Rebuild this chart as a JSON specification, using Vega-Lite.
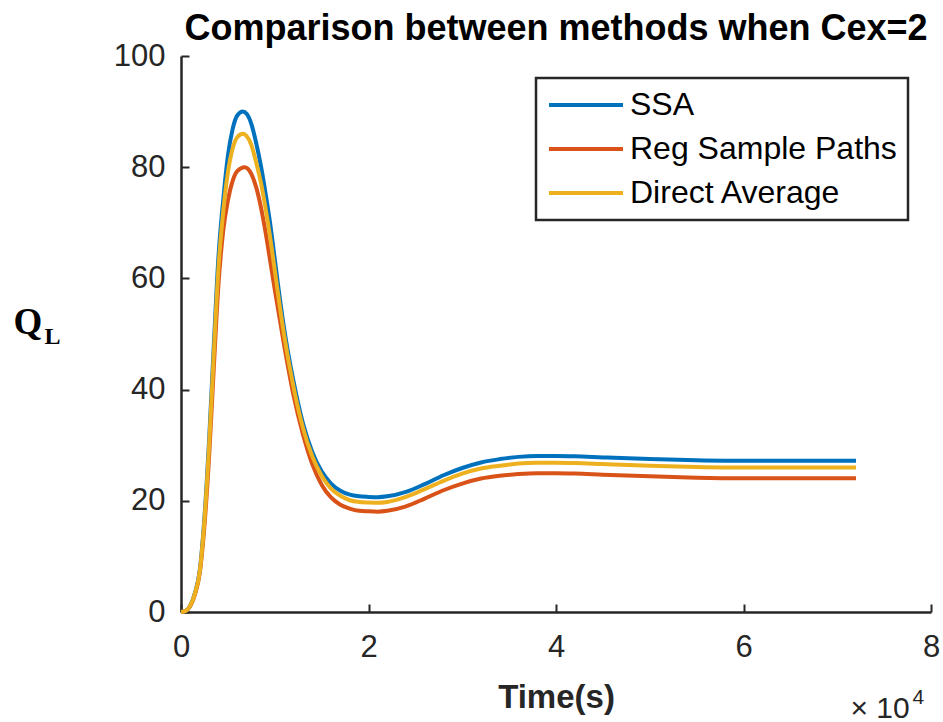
{
  "$schema": "https://vega.github.io/schema/vega-lite/v6.json",
  "width": 750,
  "height": 556,
  "autosize": {"type": "none"},
  "padding": {"left": 181, "top": 56, "right": 12, "bottom": 110},
  "background": "white",
  "title": {
    "text": "Comparison between methods when Cex=2",
    "font": "Liberation Sans",
    "fontSize": 36,
    "fontWeight": "bold",
    "color": "#000000",
    "anchor": "middle",
    "frame": "group",
    "baseline": "alphabetic",
    "offset": 0,
    "dy": 36
  },
  "config": {
    "view": {"stroke": null},
    "legend": {"strokeWidth": 2.5},
    "axis": {
      "domainColor": "#262626",
      "domainWidth": 2.5,
      "tickColor": "#262626",
      "tickWidth": 2,
      "tickSize": -8,
      "labelFont": "Liberation Sans",
      "labelFontSize": 31,
      "labelColor": "#262626",
      "grid": false,
      "labelFlush": false,
      "labelOverlap": false
    }
  },
  "data": {
    "values": [
      {"s": "SSA", "t": 0, "v": 0},
      {"s": "SSA", "t": 500, "v": 0.2},
      {"s": "SSA", "t": 1000, "v": 1.2},
      {"s": "SSA", "t": 1500, "v": 3.5},
      {"s": "SSA", "t": 2000, "v": 7.5},
      {"s": "SSA", "t": 2500, "v": 17},
      {"s": "SSA", "t": 3000, "v": 31},
      {"s": "SSA", "t": 3500, "v": 48},
      {"s": "SSA", "t": 4000, "v": 64},
      {"s": "SSA", "t": 4500, "v": 74},
      {"s": "SSA", "t": 5000, "v": 82},
      {"s": "SSA", "t": 5500, "v": 86.8},
      {"s": "SSA", "t": 6000, "v": 89.3},
      {"s": "SSA", "t": 6600, "v": 90},
      {"s": "SSA", "t": 7000, "v": 89.6},
      {"s": "SSA", "t": 7500, "v": 87.8},
      {"s": "SSA", "t": 8000, "v": 84.5},
      {"s": "SSA", "t": 8550, "v": 80},
      {"s": "SSA", "t": 9000, "v": 75.5},
      {"s": "SSA", "t": 9500, "v": 70},
      {"s": "SSA", "t": 10000, "v": 63.5},
      {"s": "SSA", "t": 10300, "v": 59.5},
      {"s": "SSA", "t": 11000, "v": 51},
      {"s": "SSA", "t": 12000, "v": 41.5},
      {"s": "SSA", "t": 13000, "v": 34},
      {"s": "SSA", "t": 14000, "v": 28.8},
      {"s": "SSA", "t": 15000, "v": 25.3},
      {"s": "SSA", "t": 16000, "v": 23.1},
      {"s": "SSA", "t": 17000, "v": 21.8},
      {"s": "SSA", "t": 18000, "v": 21.1},
      {"s": "SSA", "t": 19000, "v": 20.8},
      {"s": "SSA", "t": 20000, "v": 20.7},
      {"s": "SSA", "t": 21000, "v": 20.65},
      {"s": "SSA", "t": 22000, "v": 20.8},
      {"s": "SSA", "t": 24000, "v": 21.6},
      {"s": "SSA", "t": 26000, "v": 23.0},
      {"s": "SSA", "t": 28000, "v": 24.6},
      {"s": "SSA", "t": 30000, "v": 25.9},
      {"s": "SSA", "t": 32000, "v": 26.9},
      {"s": "SSA", "t": 34000, "v": 27.5},
      {"s": "SSA", "t": 36000, "v": 27.9},
      {"s": "SSA", "t": 38000, "v": 28.05},
      {"s": "SSA", "t": 40000, "v": 28.05},
      {"s": "SSA", "t": 42000, "v": 28.0},
      {"s": "SSA", "t": 45000, "v": 27.8},
      {"s": "SSA", "t": 50000, "v": 27.5},
      {"s": "SSA", "t": 55000, "v": 27.3},
      {"s": "SSA", "t": 60000, "v": 27.2},
      {"s": "SSA", "t": 65000, "v": 27.2},
      {"s": "SSA", "t": 70000, "v": 27.2},
      {"s": "SSA", "t": 72000, "v": 27.2},

      {"s": "Reg Sample Paths", "t": 0, "v": 0},
      {"s": "Reg Sample Paths", "t": 500, "v": 0.2},
      {"s": "Reg Sample Paths", "t": 1000, "v": 1.1},
      {"s": "Reg Sample Paths", "t": 1500, "v": 3.2},
      {"s": "Reg Sample Paths", "t": 2000, "v": 7},
      {"s": "Reg Sample Paths", "t": 2500, "v": 15.5},
      {"s": "Reg Sample Paths", "t": 3000, "v": 28},
      {"s": "Reg Sample Paths", "t": 3500, "v": 44},
      {"s": "Reg Sample Paths", "t": 4000, "v": 59},
      {"s": "Reg Sample Paths", "t": 4500, "v": 68.5},
      {"s": "Reg Sample Paths", "t": 5000, "v": 74},
      {"s": "Reg Sample Paths", "t": 5500, "v": 77.5},
      {"s": "Reg Sample Paths", "t": 6000, "v": 79.3},
      {"s": "Reg Sample Paths", "t": 6800, "v": 80},
      {"s": "Reg Sample Paths", "t": 7500, "v": 78.8},
      {"s": "Reg Sample Paths", "t": 8000, "v": 76.5},
      {"s": "Reg Sample Paths", "t": 8500, "v": 73},
      {"s": "Reg Sample Paths", "t": 9000, "v": 68.5},
      {"s": "Reg Sample Paths", "t": 9500, "v": 63.3},
      {"s": "Reg Sample Paths", "t": 10000, "v": 58},
      {"s": "Reg Sample Paths", "t": 11000, "v": 48},
      {"s": "Reg Sample Paths", "t": 12000, "v": 39},
      {"s": "Reg Sample Paths", "t": 13000, "v": 32},
      {"s": "Reg Sample Paths", "t": 14000, "v": 26.6},
      {"s": "Reg Sample Paths", "t": 15000, "v": 22.9},
      {"s": "Reg Sample Paths", "t": 16000, "v": 20.6},
      {"s": "Reg Sample Paths", "t": 17000, "v": 19.3},
      {"s": "Reg Sample Paths", "t": 18000, "v": 18.6},
      {"s": "Reg Sample Paths", "t": 19000, "v": 18.2},
      {"s": "Reg Sample Paths", "t": 20000, "v": 18.1},
      {"s": "Reg Sample Paths", "t": 21000, "v": 18.05},
      {"s": "Reg Sample Paths", "t": 22000, "v": 18.2},
      {"s": "Reg Sample Paths", "t": 24000, "v": 19.0},
      {"s": "Reg Sample Paths", "t": 26000, "v": 20.4},
      {"s": "Reg Sample Paths", "t": 28000, "v": 21.9},
      {"s": "Reg Sample Paths", "t": 30000, "v": 23.1},
      {"s": "Reg Sample Paths", "t": 32000, "v": 24.0},
      {"s": "Reg Sample Paths", "t": 34000, "v": 24.5},
      {"s": "Reg Sample Paths", "t": 36000, "v": 24.8},
      {"s": "Reg Sample Paths", "t": 38000, "v": 24.95},
      {"s": "Reg Sample Paths", "t": 40000, "v": 24.95},
      {"s": "Reg Sample Paths", "t": 42000, "v": 24.9},
      {"s": "Reg Sample Paths", "t": 45000, "v": 24.7},
      {"s": "Reg Sample Paths", "t": 50000, "v": 24.4},
      {"s": "Reg Sample Paths", "t": 55000, "v": 24.15},
      {"s": "Reg Sample Paths", "t": 60000, "v": 24.05},
      {"s": "Reg Sample Paths", "t": 65000, "v": 24.05},
      {"s": "Reg Sample Paths", "t": 70000, "v": 24.05},
      {"s": "Reg Sample Paths", "t": 72000, "v": 24.05},

      {"s": "Direct Average", "t": 0, "v": 0},
      {"s": "Direct Average", "t": 500, "v": 0.2},
      {"s": "Direct Average", "t": 1000, "v": 1.2},
      {"s": "Direct Average", "t": 1500, "v": 3.4},
      {"s": "Direct Average", "t": 2000, "v": 7.3},
      {"s": "Direct Average", "t": 2500, "v": 16.5},
      {"s": "Direct Average", "t": 3000, "v": 30},
      {"s": "Direct Average", "t": 3500, "v": 46.5},
      {"s": "Direct Average", "t": 4000, "v": 62},
      {"s": "Direct Average", "t": 4500, "v": 72},
      {"s": "Direct Average", "t": 5000, "v": 79},
      {"s": "Direct Average", "t": 5500, "v": 83.3},
      {"s": "Direct Average", "t": 6000, "v": 85.4},
      {"s": "Direct Average", "t": 6600, "v": 86},
      {"s": "Direct Average", "t": 7000, "v": 85.6},
      {"s": "Direct Average", "t": 7500, "v": 84},
      {"s": "Direct Average", "t": 8000, "v": 81},
      {"s": "Direct Average", "t": 8550, "v": 77},
      {"s": "Direct Average", "t": 9000, "v": 72.8},
      {"s": "Direct Average", "t": 9500, "v": 67.5},
      {"s": "Direct Average", "t": 10000, "v": 61.5},
      {"s": "Direct Average", "t": 10300, "v": 57.8},
      {"s": "Direct Average", "t": 11000, "v": 49.8},
      {"s": "Direct Average", "t": 12000, "v": 40.5},
      {"s": "Direct Average", "t": 13000, "v": 33.2},
      {"s": "Direct Average", "t": 14000, "v": 28},
      {"s": "Direct Average", "t": 15000, "v": 24.5},
      {"s": "Direct Average", "t": 16000, "v": 22.2},
      {"s": "Direct Average", "t": 17000, "v": 20.9},
      {"s": "Direct Average", "t": 18000, "v": 20.1},
      {"s": "Direct Average", "t": 19000, "v": 19.8},
      {"s": "Direct Average", "t": 20000, "v": 19.7},
      {"s": "Direct Average", "t": 21000, "v": 19.65},
      {"s": "Direct Average", "t": 22000, "v": 19.8},
      {"s": "Direct Average", "t": 24000, "v": 20.7},
      {"s": "Direct Average", "t": 26000, "v": 22.1},
      {"s": "Direct Average", "t": 28000, "v": 23.6},
      {"s": "Direct Average", "t": 30000, "v": 24.9},
      {"s": "Direct Average", "t": 32000, "v": 25.8},
      {"s": "Direct Average", "t": 34000, "v": 26.3},
      {"s": "Direct Average", "t": 36000, "v": 26.7},
      {"s": "Direct Average", "t": 38000, "v": 26.85},
      {"s": "Direct Average", "t": 40000, "v": 26.85},
      {"s": "Direct Average", "t": 42000, "v": 26.8},
      {"s": "Direct Average", "t": 45000, "v": 26.6},
      {"s": "Direct Average", "t": 50000, "v": 26.3},
      {"s": "Direct Average", "t": 55000, "v": 26.1},
      {"s": "Direct Average", "t": 60000, "v": 26.0},
      {"s": "Direct Average", "t": 65000, "v": 26.0},
      {"s": "Direct Average", "t": 70000, "v": 26.0},
      {"s": "Direct Average", "t": 72000, "v": 26.0}
    ]
  },
  "layer": [
    {
      "transform": [{"filter": "datum.s === 'SSA'"}],
      "mark": {"type": "line", "strokeWidth": 4, "interpolate": "monotone"},
      "encoding": {
        "x": {
          "field": "t",
          "type": "quantitative",
          "scale": {"domain": [0, 80000], "nice": false},
          "axis": {
            "values": [0, 20000, 40000, 60000, 80000],
            "labelExpr": "datum.value / 10000",
            "labelPadding": 28,
            "title": "Time(s)",
            "titleFont": "Liberation Sans",
            "titleFontSize": 33,
            "titleFontWeight": "bold",
            "titleColor": "#262626",
            "titleBaseline": "alphabetic",
            "titleY": 95
          }
        },
        "y": {
          "field": "v",
          "type": "quantitative",
          "scale": {"domain": [0, 100], "nice": false},
          "axis": {
            "values": [0, 20, 40, 60, 80, 100],
            "labelPadding": 24,
            "title": "Q",
            "titleFont": "Liberation Serif",
            "titleFontSize": 37,
            "titleFontWeight": "bold",
            "titleColor": "#000000",
            "titleAngle": 0,
            "titleAlign": "left",
            "titleBaseline": "alphabetic",
            "titleX": -168,
            "titleY": 277
          }
        },
        "color": {
          "field": "s",
          "type": "nominal",
          "scale": {
            "domain": ["SSA", "Reg Sample Paths", "Direct Average"],
            "range": ["#0072BD", "#D95319", "#EDB120"]
          },
          "legend": {
            "orient": "none",
            "legendX": 355,
            "legendY": 22,
            "title": null,
            "symbolType": "stroke",
            "symbolSize": 5476,
            "symbolStrokeWidth": 4,
            "clipHeight": 32,
            "labelFont": "Liberation Sans",
            "labelFontSize": 32,
            "labelColor": "#000000",
            "labelOffset": 5,
            "labelLimit": 400,
            "padding": 11,
            "rowPadding": 12,
            "strokeColor": "#262626",
            "fillColor": "#ffffff"
          }
        }
      }
    },
    {
      "transform": [{"filter": "datum.s === 'Reg Sample Paths'"}],
      "mark": {"type": "line", "strokeWidth": 4, "interpolate": "monotone"},
      "encoding": {
        "x": {
          "field": "t",
          "type": "quantitative",
          "axis": {
            "orient": "bottom",
            "domain": false,
            "ticks": false,
            "labels": false,
            "title": "× 10",
            "titleFont": "Liberation Sans",
            "titleFontSize": 30,
            "titleFontWeight": "normal",
            "titleColor": "#262626",
            "titleAlign": "left",
            "titleBaseline": "alphabetic",
            "titleX": 669,
            "titleY": 105
          }
        },
        "y": {"field": "v", "type": "quantitative", "axis": null},
        "color": {"field": "s", "type": "nominal"}
      }
    },
    {
      "transform": [{"filter": "datum.s === 'Direct Average'"}],
      "mark": {"type": "line", "strokeWidth": 4, "interpolate": "monotone"},
      "encoding": {
        "x": {
          "field": "t",
          "type": "quantitative",
          "axis": {
            "orient": "bottom",
            "domain": false,
            "ticks": false,
            "labels": false,
            "title": "4",
            "titleFont": "Liberation Sans",
            "titleFontSize": 21,
            "titleFontWeight": "normal",
            "titleColor": "#262626",
            "titleAlign": "left",
            "titleBaseline": "alphabetic",
            "titleX": 731,
            "titleY": 91
          }
        },
        "y": {
          "field": "v",
          "type": "quantitative",
          "axis": {
            "orient": "left",
            "domain": false,
            "ticks": false,
            "labels": false,
            "title": "L",
            "titleFont": "Liberation Serif",
            "titleFontSize": 24,
            "titleFontWeight": "bold",
            "titleColor": "#000000",
            "titleAngle": 0,
            "titleAlign": "left",
            "titleBaseline": "alphabetic",
            "titleX": -137,
            "titleY": 287
          }
        },
        "color": {"field": "s", "type": "nominal"}
      }
    }
  ],
  "resolve": {"axis": {"x": "independent", "y": "independent"}}
}
